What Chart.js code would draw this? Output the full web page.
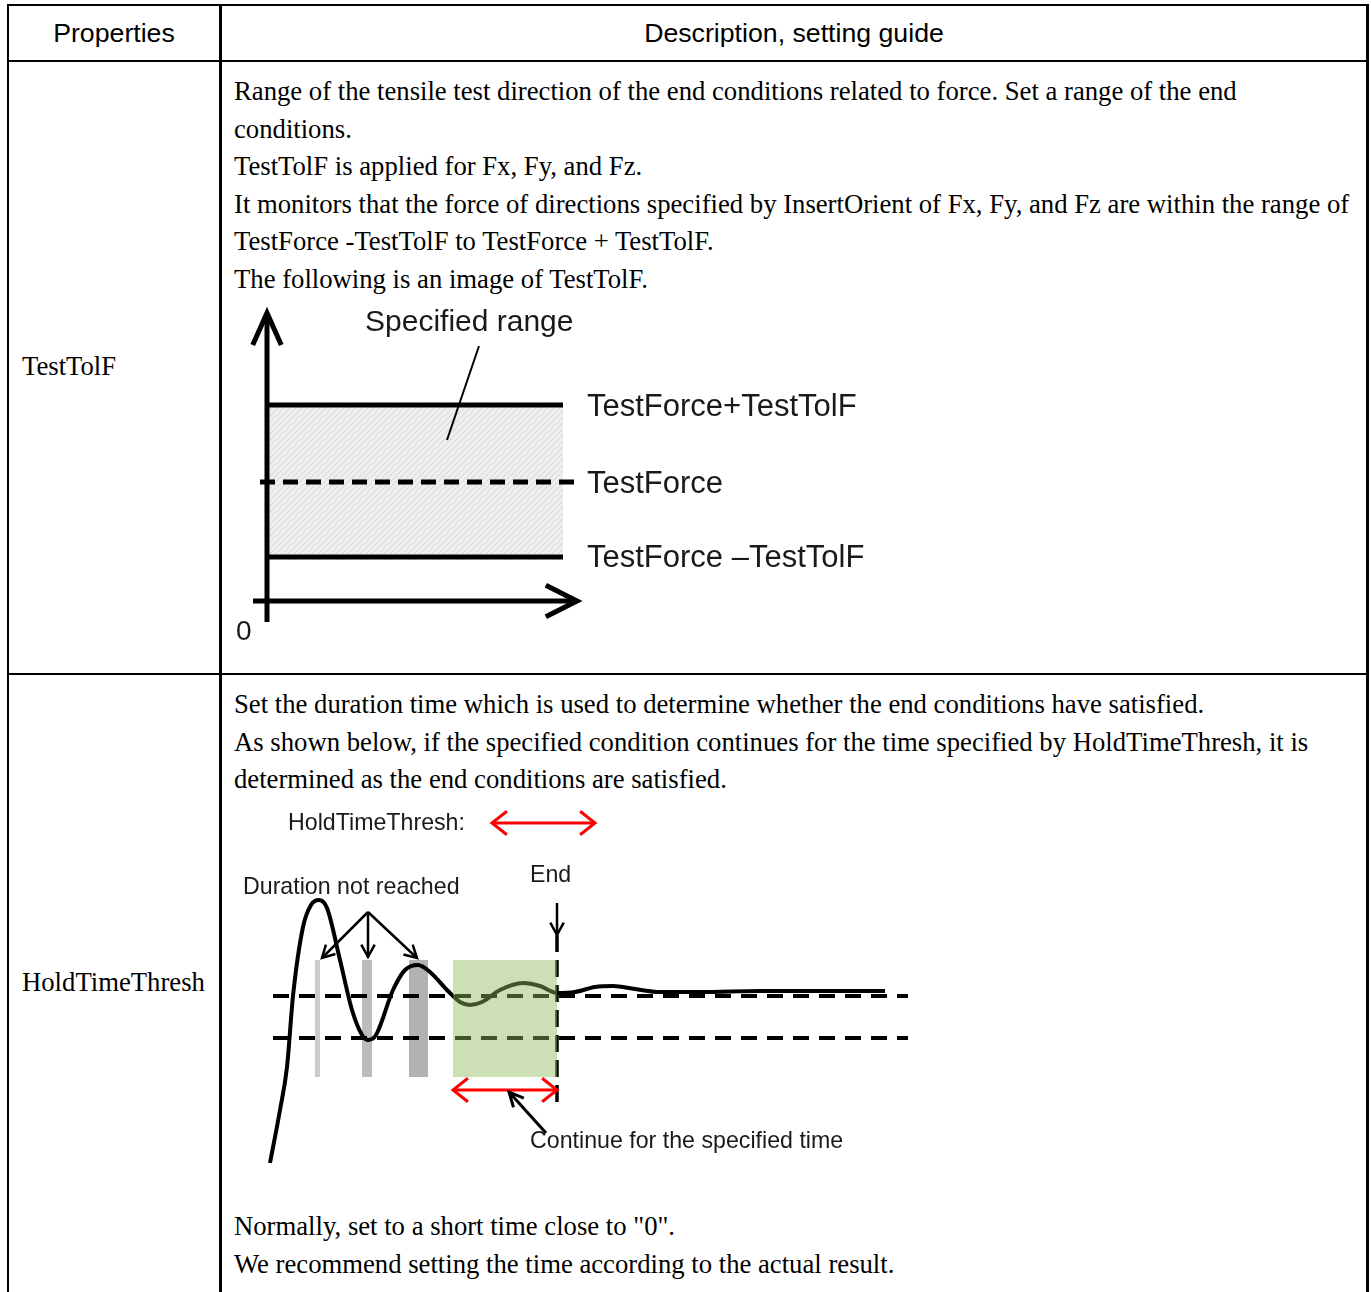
<!DOCTYPE html>
<html>
<head>
<meta charset="utf-8">
<script src="https://cdn.jsdelivr.net/npm/chart.js@4.4.0/dist/chart.umd.min.js"></script>
<style>
body { margin: 0; background: #fff; width: 1371px; height: 1292px; position: relative; overflow: hidden; }
.rule { position: absolute; background: #000; }
.hd { position: absolute; top: 18px; font-family: "Liberation Sans", Arial, sans-serif; font-size: 26.7px; line-height: 30px; text-align: center; white-space: nowrap; color: #000; }
.tx { position: absolute; left: 234px; font-family: "Liberation Serif", "Times New Roman", serif; font-size: 26.7px; line-height: 37.6px; white-space: nowrap; color: #000; }
.lbl { left: 22px; }
canvas { position: absolute; }
</style>
</head>
<body>
<!-- table rules -->
<div class="rule" style="left:7px;top:4px;width:1362px;height:2px"></div>
<div class="rule" style="left:7px;top:60px;width:1362px;height:2px"></div>
<div class="rule" style="left:7px;top:673px;width:1362px;height:2px"></div>
<div class="rule" style="left:7px;top:4px;width:2px;height:1288px"></div>
<div class="rule" style="left:219px;top:4px;width:3px;height:1288px"></div>
<div class="rule" style="left:1366px;top:4px;width:3px;height:1288px"></div>

<div class="hd" style="left:9px;width:210px">Properties</div>
<div class="hd" style="left:222px;width:1144px">Description, setting guide</div>

<div class="tx lbl" style="top:348px">TestTolF</div>
<div class="tx" style="top:73px">Range of the tensile test direction of the end conditions related to force. Set a range of the end<br>conditions.<br>TestTolF is applied for Fx, Fy, and Fz.<br>It monitors that the force of directions specified by InsertOrient of Fx, Fy, and Fz are within the range of<br>TestForce -TestTolF to TestForce + TestTolF.<br>The following is an image of TestTolF.</div>
<canvas id="tolChart" width="650" height="350" style="left:230px;top:300px"></canvas>

<div class="tx lbl" style="top:964px">HoldTimeThresh</div>
<div class="tx" style="top:686px">Set the duration time which is used to determine whether the end conditions have satisfied.<br>As shown below, if the specified condition continues for the time specified by HoldTimeThresh, it is<br>determined as the end conditions are satisfied.</div>
<canvas id="holdChart" width="700" height="380" style="left:230px;top:800px"></canvas>
<div class="tx" style="top:1208px">Normally, set to a short time close to "0".<br>We recommend setting the time according to the actual result.</div>

<script>
// ---- TestTolF diagram (x: time, y: force; origin where the axes cross)
const tolRangeX = [0, 296];
const tolLevels = [196, 119, 44];            // TestForce+TestTolF, TestForce, TestForce-TestTolF
const tolLabels = ['TestForce+TestTolF', 'TestForce', 'TestForce \u2013TestTolF'];
const tolDashX = [-7, 308];
const tolLeader = [[212, 255], [180, 161]];

// ---- HoldTimeThresh diagram (x: time, y: force)
const respT = [40, 50, 57, 63, 73, 81, 89, 97, 110, 122, 132, 138, 146, 163, 175, 188, 200, 217, 230, 240, 252, 270, 293, 310, 327, 345, 365, 383, 405, 430, 470, 530, 590, 655];
const respV = [17, 70, 113, 184, 253, 275, 280, 272, 220, 170, 145, 140, 145, 190, 210, 215, 208, 190, 178, 175, 178, 190, 197, 194, 187, 188, 193, 194, 191, 188, 188, 189, 189, 189];
const holdLevels = [184, 142];
const holdLevelX = [43, 678];
const shortBars = [[85, 90], [132, 142], [179, 198]];
const shortBarColors = ['#cbcbcb', '#bcbcbc', '#b2b2b2'];
const barSpan = [103, 220];
const holdWindow = [223, 327];
const endT = 327;
const endSpan = [75, 245];

const annot = {
  id: 'annot',
  afterDatasetsDraw(chart, args, opts) {
    const { ctx, scales: { x, y } } = chart;
    ctx.save();
    ctx.lineJoin = 'miter';
    (opts.arrows || []).forEach(a => {
      const x1 = x.getPixelForValue(a.from[0]), y1 = y.getPixelForValue(a.from[1]);
      const x2 = x.getPixelForValue(a.to[0]), y2 = y.getPixelForValue(a.to[1]);
      ctx.strokeStyle = a.color || '#000';
      ctx.lineWidth = a.width;
      ctx.beginPath(); ctx.moveTo(x1, y1); ctx.lineTo(x2, y2); ctx.stroke();
      const heads = a.both ? [[x2, y2, x1, y1], [x1, y1, x2, y2]] : [[x2, y2, x1, y1]];
      heads.forEach(([hx, hy, bx, by]) => {
        const ang = Math.atan2(hy - by, hx - bx);
        ctx.beginPath();
        ctx.moveTo(hx - a.head * Math.cos(ang - a.spread), hy - a.head * Math.sin(ang - a.spread));
        ctx.lineTo(hx, hy);
        ctx.lineTo(hx - a.head * Math.cos(ang + a.spread), hy - a.head * Math.sin(ang + a.spread));
        ctx.stroke();
      });
    });
    (opts.texts || []).forEach(t => {
      ctx.font = t.font;
      ctx.fillStyle = t.color || '#1a1a1a';
      ctx.textAlign = 'left';
      ctx.textBaseline = 'middle';
      ctx.fillText(t.text, x.getPixelForValue(t.at[0]), y.getPixelForValue(t.at[1]));
    });
    ctx.restore();
  }
};

function seg(pts, extra) {
  return Object.assign({
    data: pts, showLine: true, pointRadius: 0, borderColor: '#000',
    borderWidth: 5, fill: false, tension: 0
  }, extra);
}

function baseOptions(xr, yr, annotOpts) {
  return {
    responsive: false, animation: false, devicePixelRatio: 1, events: [],
    layout: { padding: 0 },
    plugins: { legend: { display: false }, tooltip: { enabled: false }, annot: annotOpts },
    scales: {
      x: { type: 'linear', min: xr[0], max: xr[1], display: false },
      y: { type: 'linear', min: yr[0], max: yr[1], display: false }
    }
  };
}

// hatch for the specified range
const pc = document.createElement('canvas');
pc.width = 6; pc.height = 6;
const pctx = pc.getContext('2d');
pctx.fillStyle = '#eeeeee'; pctx.fillRect(0, 0, 6, 6);
pctx.strokeStyle = '#d6d6d6'; pctx.lineWidth = 1;
pctx.beginPath(); pctx.moveTo(-1, 7); pctx.lineTo(7, -1); pctx.stroke();
const hatch = pctx.createPattern(pc, 'repeat');

const tolFont = '31px "Liberation Sans"';

new Chart(document.getElementById('tolChart'), {
  type: 'scatter',
  data: {
    datasets: [
      seg([{ x: tolRangeX[0], y: tolLevels[0] }, { x: tolRangeX[1], y: tolLevels[0] }]),
      seg([{ x: tolDashX[0], y: tolLevels[1] }, { x: tolDashX[1], y: tolLevels[1] }], { borderDash: [15, 8] }),
      seg([{ x: tolRangeX[0], y: tolLevels[2] }, { x: tolRangeX[1], y: tolLevels[2] }]),
      seg(tolLeader.map(p => ({ x: p[0], y: p[1] })), { borderWidth: 2 }),
      seg([{ x: tolRangeX[0], y: tolLevels[0] }, { x: tolRangeX[1], y: tolLevels[0] }],
        { borderWidth: 0, fill: { value: tolLevels[2] }, backgroundColor: hatch })
    ]
  },
  options: baseOptions([-37, 613], [-49, 301], {
    arrows: [
      { from: [0, -21], to: [0, 288], width: 5, head: 35, spread: 0.42 },
      { from: [-14, 0], to: [310, 0], width: 5, head: 35, spread: 0.47 }
    ],
    texts: [
      { text: 'Specified range', at: [98, 278], font: '30px "Liberation Sans"' },
      { text: tolLabels[0], at: [320, tolLevels[0] - 2], font: tolFont },
      { text: tolLabels[1], at: [320, tolLevels[1] - 2], font: tolFont },
      { text: tolLabels[2], at: [320, tolLevels[2] - 1], font: tolFont },
      { text: '0', at: [-31, -31], font: '28px "Liberation Sans"' }
    ]
  }),
  plugins: [annot]
});

const holdSets = [
  seg([{ x: holdWindow[0], y: barSpan[1] }, { x: holdWindow[1], y: barSpan[1] }],
    { borderWidth: 0, fill: { value: barSpan[0] }, backgroundColor: 'rgba(144,184,88,0.45)', order: 0 }),
  seg(respT.map((t, i) => ({ x: t, y: respV[i] })), { borderWidth: 4, cubicInterpolationMode: 'monotone', order: 1 }),
  seg([{ x: endT, y: endSpan[1] }, { x: endT, y: endSpan[0] }], { borderWidth: 3.5, borderDash: [17, 8], order: 2 })
];
holdLevels.forEach(v => holdSets.push(
  seg([{ x: holdLevelX[0], y: v }, { x: holdLevelX[1], y: v }], { borderWidth: 4, borderDash: [16, 10], order: 2 })));
shortBars.forEach((b, i) => holdSets.push(
  seg([{ x: b[0], y: barSpan[1] }, { x: b[1], y: barSpan[1] }],
    { borderWidth: 0, fill: { value: barSpan[0] }, backgroundColor: shortBarColors[i], order: 3 })));

const holdFont = '23.2px "Liberation Sans"';

new Chart(document.getElementById('holdChart'), {
  type: 'scatter',
  data: { datasets: holdSets },
  options: baseOptions([0, 700], [0, 380], {
    arrows: [
      { from: [262, 357], to: [365, 357], both: true, color: '#ff0000', width: 3, head: 19, spread: 0.67 },
      { from: [holdWindow[0], 90], to: [holdWindow[1], 90], both: true, color: '#ff0000', width: 3, head: 19, spread: 0.67 },
      { from: [138, 268], to: [92, 222], width: 2.5, head: 14, spread: 0.5 },
      { from: [138, 268], to: [138, 223], width: 2.5, head: 14, spread: 0.5 },
      { from: [138, 268], to: [187, 222], width: 2.5, head: 14, spread: 0.5 },
      { from: [endT, 277], to: [endT, 245], width: 2.5, head: 14, spread: 0.5 },
      { from: [316, 47], to: [279, 88], width: 3, head: 16, spread: 0.45 }
    ],
    texts: [
      { text: 'HoldTimeThresh:', at: [58, 356], font: holdFont },
      { text: 'Duration not reached', at: [13, 292], font: holdFont },
      { text: 'End', at: [300, 304], font: holdFont },
      { text: 'Continue for the specified time', at: [300, 38], font: holdFont }
    ]
  }),
  plugins: [annot]
});
</script>
</body>
</html>
